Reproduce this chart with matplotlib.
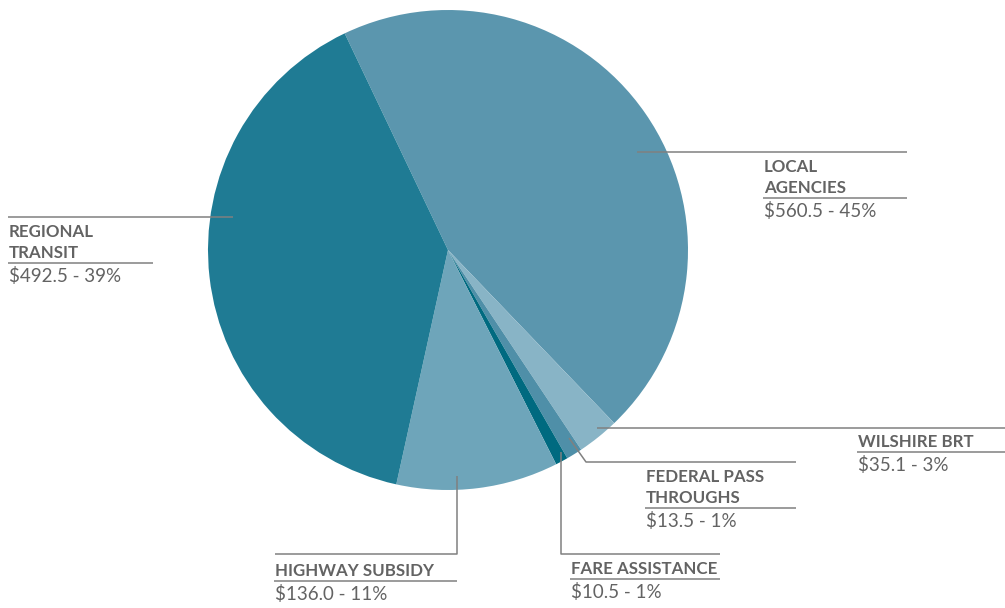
import matplotlib
matplotlib.use("Agg")
import matplotlib.pyplot as plt

# data
categories = ["LOCAL\nAGENCIES", "WILSHIRE BRT", "FEDERAL PASS\nTHROUGHS", "FARE ASSISTANCE",
              "HIGHWAY SUBSIDY", "REGIONAL\nTRANSIT"]
values = [560.5, 35.1, 13.5, 10.5, 136.0, 492.5]
value_labels = ["$560.5 - 45%", "$35.1 - 3%", "$13.5 - 1%", "$10.5 - 1%", "$136.0 - 11%", "$492.5 - 39%"]
colors = ["#5b96ae", "#88b4c6", "#4f8fa8", "#006a80", "#6ea5ba", "#1f7b94"]

W, H = 1005, 608
fig = plt.figure(figsize=(W / 100, H / 100), dpi=100)
ax = fig.add_axes([0, 0, 1, 1])
ax.set_xlim(0, W)
ax.set_ylim(0, H)
ax.set_aspect("equal")
ax.axis("off")

def Y(py):
    return H - py

cx, cy, r = 448, 250, 240
ax.pie(values, colors=colors, startangle=115.5, counterclock=False,
       center=(cx, Y(cy)), radius=r, frame=True,
       wedgeprops=dict(linewidth=0))
ax.set_xlim(0, W)
ax.set_ylim(0, H)
ax.axis("off")

LC = "#808080"
TC = "#636363"
LW = 1.1

def line(xs, ys):
    ax.plot(xs, [Y(v) for v in ys], color=LC, lw=LW, solid_capstyle="butt", zorder=5)

# leader lines (pixel layout)
line([637, 907], [152, 152])                 # local
line([8, 233], [217, 217])                   # regional
line([597, 1005], [428, 428])                # wilshire
line([569, 586, 796], [438, 462, 462])       # federal
line([561, 561, 720], [452, 554, 554])       # fare
line([457, 457, 275], [476, 554, 554])       # highway

# label layout: (x, underline_y, underline_x_end)
layout = [
    (764, 198, 907),
    (858, 452, 1005),
    (646, 508, 796),
    (571, 579, 720),
    (275, 581, 457),
    (9, 263, 153),
]

for cat, vl, (x, uy, xe) in zip(categories, value_labels, layout):
    lines = cat.split("\n")
    n = len(lines)
    for i, t in enumerate(lines):
        base = uy - 5 - (n - 1 - i) * 21
        ax.text(x, Y(base), t, ha="left", va="baseline", fontsize=12.2,
                fontfamily="Lato", fontweight="bold", color=TC)
    line([x - 1, xe], [uy, uy])
    ax.text(x, Y(uy + 19), vl, ha="left", va="baseline", fontsize=13.5,
            fontfamily="Lato", color=TC)

fig.savefig("out.png", dpi=100)
